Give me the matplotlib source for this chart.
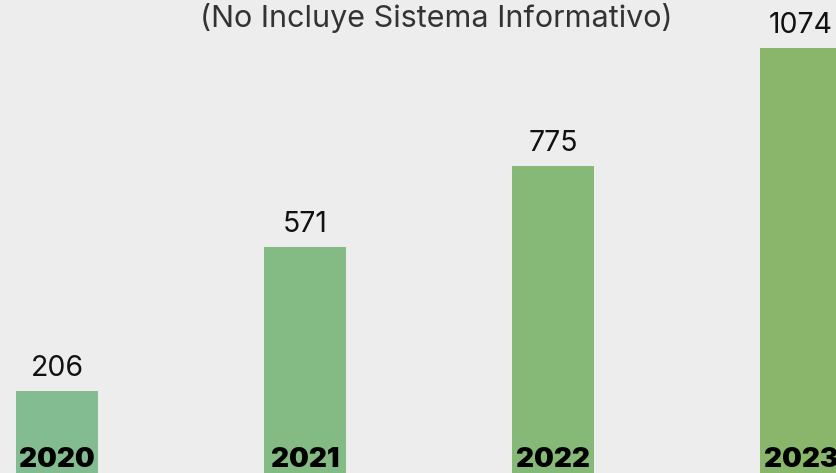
import matplotlib
matplotlib.use("Agg")
import matplotlib.pyplot as plt

years = ["2020", "2021", "2022", "2023"]
values = [206, 571, 775, 1074]
colors = ["#84bc91", "#84ba84", "#86b878", "#89b66a"]
title = "(No Incluye Sistema Informativo)"

plt.rcParams['font.family'] = ['Inter', 'DejaVu Sans']

fig = plt.figure(figsize=(8.37, 4.73), dpi=100)
fig.patch.set_facecolor("#ededed")
ax = fig.add_axes([0, 0, 1, 1])
ax.set_facecolor("#ededed")

x = list(range(len(years)))
ax.bar(x, values, width=0.33, color=colors)
ax.set_xlim(-0.23, 3.145)
ax.set_ylim(0, 1195)
ax.axis("off")

for xi, v, yr in zip(x, values, years):
    ax.annotate(str(v), (xi, v), xytext=(0, 11), textcoords="offset points",
                ha="center", va="baseline", fontsize=20.5, color="#111111")
    ax.annotate(yr, (xi, 0), xytext=(0, 0), textcoords="offset points",
                ha="center", va="bottom", fontsize=20, fontweight="black", color="black")

# title sits at the top edge, like in the original crop
fig.text(0.521, 1 - 27 / 473, title, ha="center", va="baseline",
         fontsize=22, fontweight="normal", color="#333333")

fig.savefig("out.png", dpi=100, facecolor=fig.get_facecolor())
